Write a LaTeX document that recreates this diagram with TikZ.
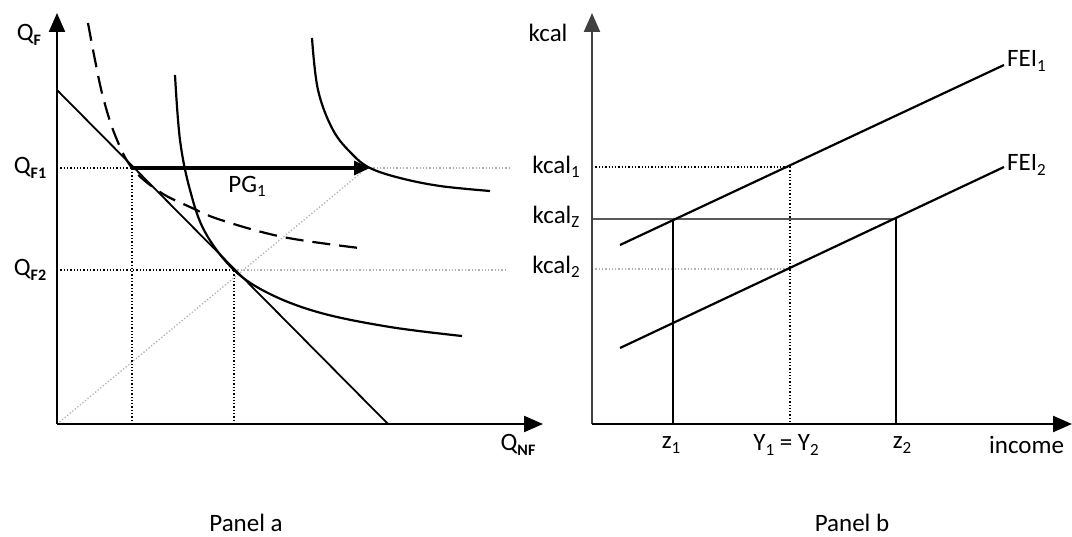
\documentclass[tikz,border=0pt]{standalone}
\usepackage{fontspec}
\setmainfont{Carlito}
\usetikzlibrary{arrows.meta}
\newcommand{\subtxt}[1]{\raisebox{-0.35ex}{\fontsize{17}{17}\selectfont #1}}
\newcommand{\subsm}[1]{\raisebox{-0.4ex}{\fontsize{16}{16}\selectfont\bfseries #1}}
\begin{document}
\begin{tikzpicture}[x=1pt,y=-1pt,
  lbl/.style={inner sep=0pt,font=\fontsize{25}{28}\selectfont},
  axis/.style={line width=2.2pt,-{Triangle[length=19pt,width=16pt]}},
  curve/.style={line width=2.2pt},
  blackdot/.style={line width=1.3pt,dotted},
  graydot/.style={line width=1.3pt,dotted,gray!60},
  bline/.style={line width=1.8pt}]
\useasboundingbox (0,0) rectangle (1072,537);
% ---------- Panel a ----------
\coordinate (Oa) at (57,424);
\coordinate (Yat) at (57,13);
\coordinate (Xat) at (543,424);
\coordinate (A) at (132,168);
\coordinate (B) at (234,270);
\coordinate (C) at (370,168);
\coordinate (BLtop) at (57,90);
\coordinate (BLbot) at (388,424);
\coordinate (A0) at (57,168);
\coordinate (B0) at (57,270);
\coordinate (Ax) at (132,424);
\coordinate (Bx) at (234,424);
\coordinate (Cend) at (510,168);
\coordinate (Bend) at (505,270);
\coordinate (Rend) at (362,172);
% dotted guides
\draw[blackdot] (A0) -- (A) -- (Ax);
\draw[blackdot] (B0) -- (B) -- (Bx);
\draw[graydot] (C) -- (Cend);
\draw[graydot] (B) -- (Bend);
\draw[graydot] (Oa) -- (Rend);
% budget line
\draw[bline] (BLtop) -- (BLbot);
% dashed indifference curve
\draw[curve,dash pattern=on 18pt off 9pt] plot[smooth,tension=0.6] coordinates
  {(88,23) (95,60) (103,97) (115,135) (132,168) (160,192) (190,207) (221,220) (283,237) (359,248)};
% middle indifference curve
\draw[curve] plot[smooth,tension=0.6] coordinates
  {(175,75) (180,140) (190,190) (205,232) (234,270) (270,294) (321,313) (390,327) (462,336)};
% top right indifference curve
\draw[curve] plot[smooth,tension=0.6] coordinates
  {(312,38) (318,90) (333,130) (352,154) (370,168) (400,178) (440,186) (490,191)};
% PG arrow
\draw[line width=3.2pt,-{Triangle[length=16pt,width=14pt]}] (A) -- (C);
% axes
\draw[axis] (Oa) -- (Yat);
\draw[axis] (Oa) -- (Xat);
% labels
\node[lbl] (qf) at (29,35) {Q\subsm{F}};
\node[lbl] (qf1) at (30,168) {Q\subsm{F1}};
\node[lbl] (qf2) at (30,270) {Q\subsm{F2}};
\node[lbl] (qnf) at (518,445) {Q\subsm{NF}};
\node[lbl] (pg) at (247,186) {PG\subtxt{1}};
\node[lbl] (pa) at (246,523) {Panel a};
% ---------- Panel b ----------
\coordinate (Ob) at (592,424);
\coordinate (Ybt) at (592,13);
\coordinate (Xbt) at (1072,424);
\coordinate (F1s) at (620,245);
\coordinate (F1e) at (1004,65);
\coordinate (F2s) at (620,348);
\coordinate (F2e) at (1004,167);
\coordinate (P1) at (790,167);
\coordinate (P2) at (790,269);
\coordinate (Z1) at (673,219);
\coordinate (Z2) at (896,219);
\coordinate (K1) at (592,167);
\coordinate (K2) at (592,269);
\coordinate (KZ) at (592,219);
\coordinate (Z1x) at (673,424);
\coordinate (Z2x) at (896,424);
\coordinate (Px) at (790,424);
\draw[blackdot] (K1) -- (P1) -- (Px);
\draw[graydot] (K2) -- (P2);
\draw[line width=1.4pt,gray!70!black] (KZ) -- (Z2);
\draw[bline] (Z1) -- (Z1x);
\draw[bline] (Z2) -- (Z2x);
\draw[curve] (F1s) -- (F1e);
\draw[curve] (F2s) -- (F2e);
\draw[axis,gray!50!black] (Ob) -- (Ybt);
\draw[axis] (Ob) -- (Xbt);
\node[lbl] (kc) at (548,33) {kcal};
\node[lbl] (kc1) at (556,167) {kcal\subtxt{1}};
\node[lbl] (kcz) at (556,217) {kcal\subtxt{Z}};
\node[lbl] (kc2) at (556,267) {kcal\subtxt{2}};
\node[lbl,anchor=west] (fei1) at (1007,61) {FEI\subtxt{1}};
\node[lbl,anchor=west] (fei2) at (1007,165) {FEI\subtxt{2}};
\node[lbl] (z1) at (671,445) {z\subtxt{1}};
\node[lbl] (yy) at (786,445) {Y\subtxt{1} = Y\subtxt{2}};
\node[lbl] (z2) at (902,445) {z\subtxt{2}};
\node[lbl,anchor=west] (inc) at (989,445) {income};
\node[lbl] (pb) at (852,523) {Panel b};
\end{tikzpicture}
\end{document}
